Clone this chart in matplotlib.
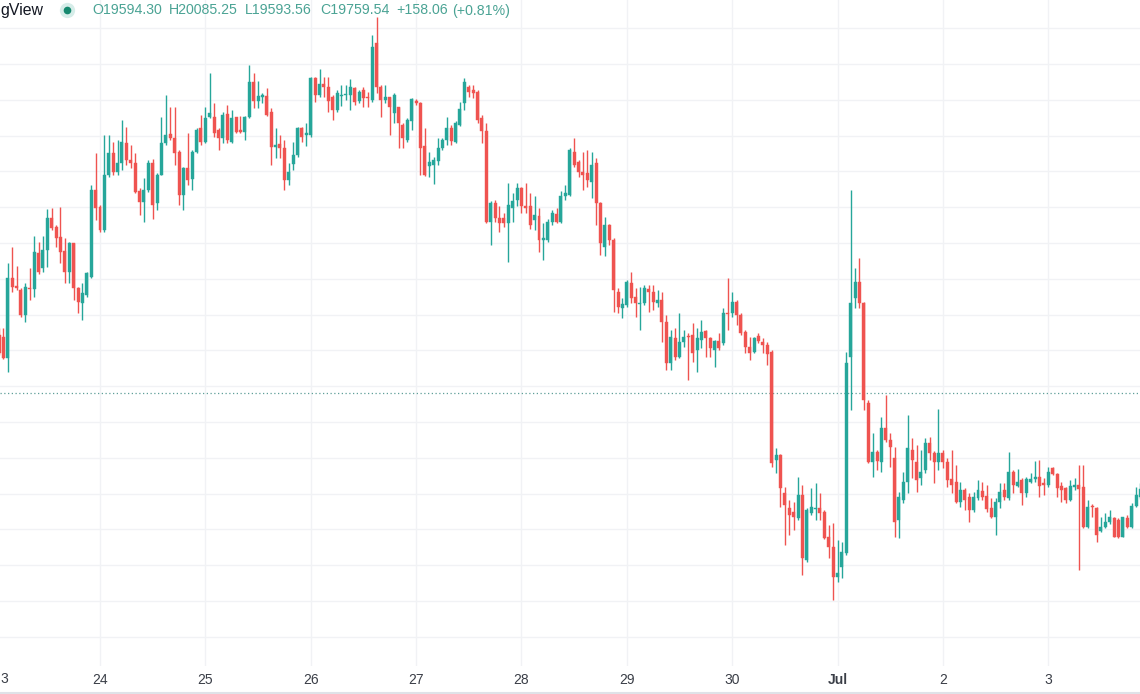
import matplotlib
matplotlib.use("Agg")
import matplotlib.pyplot as plt
import numpy as np

# ---------------- data (hourly candles, 23 Jun 01:00 -> 3 Jul 20:00) ----------------
opens = [20086, 20077, 19956, 20403, 20362, 20337, 20198, 20345, 20341, 20542,
         20458, 20561, 20738, 20691, 20635, 20555, 20440, 20598, 20347, 20263,
         20310, 20412, 20896, 20799, 20673, 20980, 21105, 20998, 21045, 21160,
         21064, 21045, 20890, 20831, 20896, 21049, 20822, 20980, 21160, 21209,
         21185, 21110, 20868, 21017, 20956, 21110, 21241, 21167, 21306, 21306,
         21232, 21185, 21319, 21167, 21302, 21232, 21222, 21302, 21502, 21396,
         21414, 21422, 21334, 21139, 21153, 21129, 20952, 21042, 21092, 21241,
         21204, 21204, 21520, 21427, 21489, 21470, 21414, 21343, 21422, 21427,
         21427, 21464, 21396, 21455, 21414, 21399, 21716, 21470, 21400, 21414,
         21325, 21357, 21260, 21176, 21279, 21396, 21381, 21143, 21031, 21036,
         21059, 21130, 21176, 21241, 21167, 21260, 21381, 21474, 21452, 21441,
         21297, 21223, 20720, 20826, 20739, 20739, 20711, 20794, 20841, 20906,
         20807, 20804, 20729, 20752, 20618, 20618, 20720, 20763, 20720, 20860,
         20869, 21110, 21054, 20998, 20989, 20942, 21045, 20825, 20579, 20700,
         20617, 20328, 20235, 20253, 20374, 20300, 20259, 20263, 20341, 20328,
         20263, 20281, 20160, 19928, 20067, 19965, 20049, 20080, 20086, 20002,
         20058, 20110, 20067, 20002, 20054, 20039, 20207, 20207, 20272, 20198,
         20104, 20021, 19993, 20080, 20049, 20030, 19993, 19388, 19416, 19202,
         19118, 19099, 19062, 19192, 18829, 19090, 19116, 19118, 19099, 18960,
         18904, 18736, 18792, 18867, 19965, 20291, 20384, 20263, 19704, 19379,
         19434, 19379, 19565, 19500, 19397, 19053, 19164, 19267, 19444, 19379,
         19286, 19332, 19481, 19426, 19379, 19429, 19379, 19280, 19267, 19155,
         19220, 19179, 19109, 19174, 19216, 19187, 19118, 19071, 19155, 19220,
         19174, 19323, 19243, 19276, 19202, 19267, 19280, 19291, 19258, 19248,
         19341, 19310, 19243, 19230, 19164, 19235, 19248, 19235, 19015, 19131,
         19118, 18993, 19015, 19043, 19062, 19053, 18960, 19062, 19015, 19131,
         19180]
highs = [20123, 20123, 20486, 20579, 20473, 20347, 20376, 20458, 20641, 20604,
         20641, 20788, 20794, 20700, 20803, 20626, 20607, 20602, 20356, 20375,
         20440, 20924, 21101, 20812, 21203, 21203, 21166, 21175, 21287, 21250,
         21147, 21101, 20905, 20961, 21064, 21067, 20989, 21304, 21427, 21360,
         21360, 21119, 21026, 21213, 21119, 21240, 21315, 21362, 21548, 21381,
         21241, 21334, 21371, 21343, 21306, 21310, 21310, 21595, 21548, 21505,
         21437, 21464, 21353, 21241, 21204, 21176, 21045, 21167, 21250, 21250,
         21269, 21530, 21530, 21571, 21530, 21530, 21427, 21455, 21483, 21483,
         21517, 21473, 21455, 21470, 21446, 21762, 21865, 21483, 21483, 21418,
         21440, 21362, 21269, 21297, 21409, 21403, 21390, 21241, 21111, 21082,
         21185, 21185, 21303, 21260, 21279, 21390, 21521, 21483, 21483, 21452,
         21316, 21269, 20832, 20841, 20804, 20767, 20934, 20878, 20934, 20915,
         20934, 20878, 20860, 20794, 20711, 20733, 20785, 20794, 20888, 20925,
         21130, 21184, 21063, 21110, 21119, 21110, 21073, 20831, 20747, 20705,
         20626, 20347, 20291, 20393, 20440, 20347, 20356, 20365, 20365, 20365,
         20337, 20328, 20198, 20114, 20123, 20211, 20114, 20095, 20151, 20123,
         20170, 20114, 20077, 20058, 20095, 20235, 20402, 20328, 20281, 20207,
         20114, 20077, 20077, 20095, 20067, 20049, 20002, 19453, 19421, 19239,
         19164, 19155, 19295, 19248, 19118, 19230, 19258, 19205, 19109, 19025,
         19034, 18941, 18932, 19993, 20896, 20459, 20514, 20272, 19723, 19537,
         19444, 19630, 19751, 19537, 19462, 19211, 19323, 19639, 19509, 19472,
         19444, 19509, 19518, 19440, 19671, 19444, 19397, 19444, 19360, 19267,
         19230, 19202, 19211, 19276, 19267, 19248, 19174, 19174, 19258, 19258,
         19434, 19330, 19336, 19285, 19295, 19317, 19384, 19388, 19285, 19351,
         19351, 19317, 19267, 19239, 19276, 19285, 19360, 19360, 19164, 19142,
         19127, 19071, 19090, 19109, 19071, 19062, 19071, 19081, 19146, 19239,
         19260]
lows = [19974, 19950, 19881, 20328, 20337, 20188, 20160, 20282, 20300, 20427,
        20440, 20468, 20673, 20579, 20486, 20375, 20375, 20282, 20211, 20170,
        20300, 20403, 20728, 20663, 20663, 20970, 20980, 20980, 21008, 21036,
        21017, 20878, 20756, 20719, 20887, 20732, 20784, 20980, 21147, 21175,
        21036, 20812, 20784, 20924, 20896, 21101, 21148, 21157, 21297, 21194,
        21120, 21157, 21157, 21157, 21213, 21217, 21176, 21297, 21353, 21353,
        21381, 21310, 21036, 21073, 21073, 20897, 20924, 21008, 21083, 21167,
        21142, 21194, 21390, 21418, 21418, 21334, 21288, 21334, 21366, 21399,
        21343, 21371, 21381, 21362, 21362, 21390, 21437, 21306, 21381, 21204,
        21269, 21130, 21130, 21167, 21232, 21372, 20981, 20975, 20971, 20930,
        21036, 21120, 21148, 21148, 21158, 21251, 21344, 21418, 21409, 21273,
        21158, 20710, 20590, 20720, 20664, 20692, 20496, 20720, 20804, 20767,
        20767, 20677, 20674, 20552, 20506, 20608, 20701, 20711, 20711, 20841,
        20860, 21026, 20970, 20896, 20914, 20849, 20700, 20533, 20527, 20589,
        20216, 20207, 20179, 20244, 20263, 20188, 20114, 20253, 20216, 20226,
        20240, 20049, 19890, 19890, 19946, 19956, 20021, 19835, 19937, 19881,
        20011, 19965, 19965, 19909, 20002, 20030, 20114, 20188, 20142, 20086,
        19983, 19946, 19987, 20043, 19987, 19919, 19347, 19313, 19127, 18913,
        18969, 18997, 19053, 18746, 18820, 19081, 19053, 19053, 18945, 18839,
        18606, 18708, 18727, 18857, 19667, 20235, 20235, 19667, 19369, 19295,
        19332, 19323, 19490, 19351, 18960, 18951, 19146, 19202, 19286, 19211,
        19248, 19313, 19388, 19258, 19332, 19341, 19239, 19202, 19150, 19127,
        19109, 19043, 19099, 19164, 19164, 19099, 19062, 18969, 19118, 19164,
        19164, 19202, 19239, 19137, 19183, 19261, 19267, 19183, 19192, 19235,
        19304, 19183, 19155, 19146, 19160, 19220, 18773, 19010, 19006, 19071,
        18932, 18988, 19010, 19030, 18955, 18950, 18956, 19006, 19006, 19127,
        19170]
closes = [19984, 19956, 20403, 20356, 20347, 20198, 20356, 20341, 20548, 20440,
          20561, 20738, 20682, 20626, 20552, 20440, 20598, 20347, 20272, 20319,
          20430, 20896, 20794, 20673, 20980, 21101, 20998, 21045, 21166, 21064,
          21045, 20887, 20831, 20896, 21045, 20812, 20980, 21160, 21203, 21185,
          21101, 20868, 21017, 20952, 21110, 21231, 21167, 21297, 21325, 21213,
          21185, 21315, 21176, 21297, 21222, 21222, 21302, 21502, 21396, 21422,
          21427, 21315, 21139, 21148, 21129, 20952, 20999, 21092, 21241, 21194,
          21217, 21520, 21427, 21489, 21470, 21396, 21343, 21437, 21427, 21433,
          21470, 21390, 21446, 21409, 21409, 21693, 21470, 21399, 21418, 21362,
          21428, 21269, 21185, 21288, 21403, 21381, 21130, 20981, 21050, 21063,
          21130, 21176, 21241, 21172, 21269, 21347, 21502, 21446, 21437, 21288,
          21228, 20720, 20826, 20739, 20711, 20711, 20813, 20832, 20906, 20804,
          20794, 20701, 20757, 20618, 20627, 20720, 20770, 20720, 20863, 20878,
          21117, 21035, 20998, 20980, 20952, 21035, 20821, 20598, 20700, 20617,
          20337, 20244, 20259, 20384, 20291, 20263, 20263, 20347, 20328, 20272,
          20281, 20160, 19928, 20077, 19965, 20049, 20077, 20077, 19983, 20067,
          20104, 20067, 20011, 20054, 20011, 20207, 20203, 20272, 20198, 20095,
          20021, 19987, 20067, 20054, 20030, 19980, 19369, 19416, 19230, 19137,
          19081, 19071, 19192, 18839, 19109, 19127, 19118, 19094, 18950, 18904,
          18736, 18755, 18876, 19928, 20263, 20384, 20267, 19723, 19379, 19434,
          19384, 19565, 19500, 19462, 19044, 19183, 19267, 19453, 19388, 19276,
          19323, 19481, 19426, 19379, 19429, 19379, 19276, 19248, 19155, 19220,
          19164, 19109, 19183, 19220, 19183, 19112, 19071, 19155, 19211, 19179,
          19323, 19248, 19267, 19202, 19280, 19280, 19291, 19243, 19248, 19323,
          19310, 19230, 19220, 19164, 19243, 19248, 19224, 19015, 19127, 19127,
          18969, 19015, 19043, 19071, 18960, 18960, 19068, 19015, 19131, 19192,
          19225]

first_hour = 1                       # first candle: 23 Jun, 01:00
day_labels = ["24", "25", "26", "27", "28", "29", "30", "Jul", "2", "3"]
edge_label = "3"                     # remainder of the "23" label at the left edge
brand_text = "gView"                 # visible part of the "TradingView" logo text
last_price = 19759.54
header_fields = ["O19594.30", "H20085.25", "L19593.56", "C19759.54",
                 "+158.06", "(+0.81%)"]

# ---------------- figure ----------------
W, H = 1140, 694
fig = plt.figure(figsize=(W / 100, H / 100), dpi=100)
fig.patch.set_facecolor("white")
plot_bottom_px = 666
ax = fig.add_axes([0, 1 - plot_bottom_px / H, 1, plot_bottom_px / H])
ax.set_facecolor("white")

UP = "#26a69a"
DOWN = "#ef5350"
GRID = "#f1f2f5"
font = "Liberation Sans"

o = np.array(opens, float)
h = np.array(highs, float)
l = np.array(lows, float)
c = np.array(closes, float)
n = len(o)
x = np.arange(n)
up = c >= o
cols = np.where(up, UP, DOWN)

# wicks
ax.vlines(x, l, h, colors=cols, linewidth=1.0, zorder=3)
# bodies
bottom = np.minimum(o, c)
height = np.maximum(np.abs(c - o), 6)
ax.bar(x, height, bottom=bottom, width=0.68, color=cols, edgecolor=cols,
       linewidth=0.3, zorder=4)

# axis limits: pixel geometry of the reference
px_per_candle = 4.39
day0_idx = 24 - first_hour          # index of 24 Jun 00:00
x_left = day0_idx - 100 / px_per_candle
x_right = x_left + W / px_per_candle
ax.set_xlim(x_left, x_right)

px_per_200 = 35.8
y_ref_px, y_ref_price = 601, 18600
ppp = 200 / px_per_200
ax.set_ylim(y_ref_price - (plot_bottom_px - y_ref_px) * ppp,
            y_ref_price + y_ref_px * ppp)

# grid
for p in range(18200, 22200, 200):
    ax.axhline(p, color=GRID, linewidth=1.0, zorder=0)
day_pos = [day0_idx + 24 * k for k in range(len(day_labels))]
for d in day_pos:
    ax.axvline(d, color=GRID, linewidth=1.0, zorder=0)

# last price dotted line
ax.axhline(last_price, color="#5f9f98", linewidth=0.9,
           linestyle=(0, (1, 2)), zorder=2)

for s in ax.spines.values():
    s.set_visible(False)
ax.set_yticks([])
ax.set_xticks(day_pos)
ax.set_xticklabels(day_labels, fontsize=10, family=font, color="#3a3e47")
for t in ax.get_xticklabels():
    if t.get_text() == "Jul":
        t.set_fontweight("bold")
ax.tick_params(axis="x", length=0, pad=5)

# remainder of the cut "23" label at the left edge
fig.text(0.5 / W, 1 - 679 / H, edge_label, fontsize=10, family=font,
         color="#3a3e47", ha="left", va="center")

# bottom border line
fig.add_artist(plt.Line2D([0, 1], [1.5 / H, 1.5 / H], color="#dfe2e8",
                          linewidth=1.5, transform=fig.transFigure))

# header
fig.text(43 / W, 1 - 10 / H, brand_text, fontsize=11.4, family=font,
         color="#131722", ha="right", va="center")
fig.add_artist(plt.Line2D([67 / W], [1 - 10 / H], marker="o", markersize=11,
                          markerfacecolor="#d6ede9", markeredgecolor="none",
                          transform=fig.transFigure, zorder=5))
fig.add_artist(plt.Line2D([67 / W], [1 - 10 / H], marker="o", markersize=5.5,
                          markerfacecolor="#16896f", markeredgecolor="none",
                          transform=fig.transFigure, zorder=6))
header_x = [92, 169, 245, 320, 396, 452]
for hx, txt in zip(header_x, header_fields):
    fig.text(hx / W, 1 - 10.5 / H, txt, fontsize=10.2, family=font,
             color="#4aa394", ha="left", va="center")

fig.savefig("out.png", dpi=100, facecolor="white")
